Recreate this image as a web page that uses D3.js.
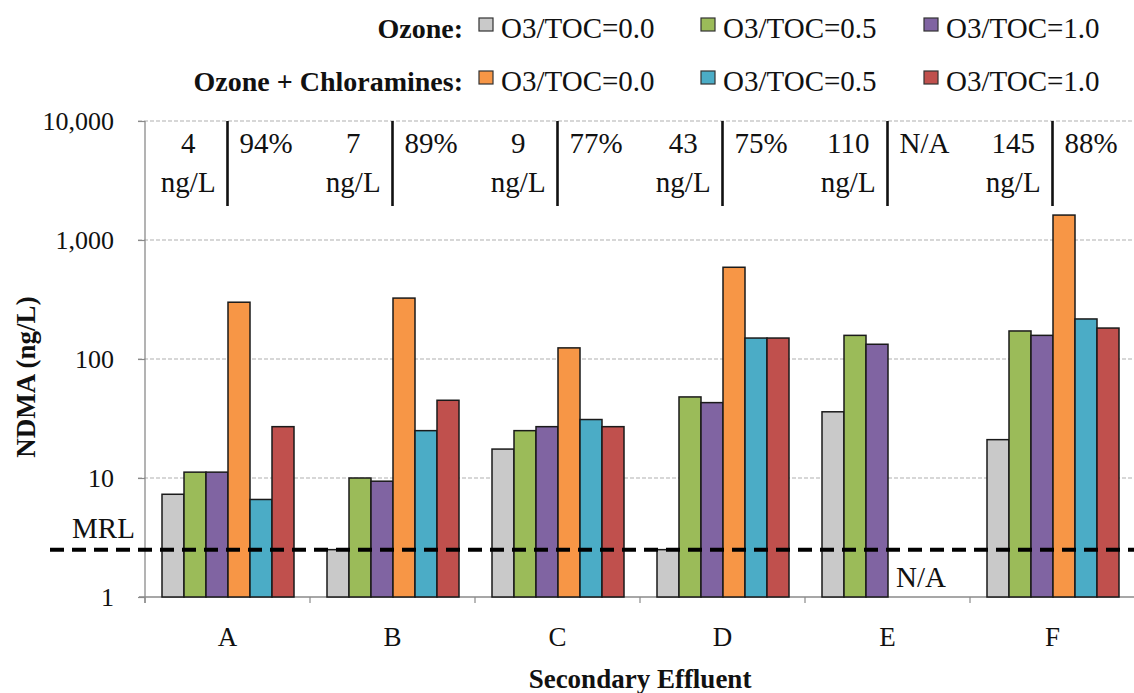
<!DOCTYPE html>
<html>
<head>
<meta charset="utf-8">
<script src="https://cdn.jsdelivr.net/npm/d3@7"></script>
<style>
  html, body { margin: 0; padding: 0; background: #fff; }
  svg { display: block; }
  svg text { font-family: "Liberation Serif", "Tinos", "Times New Roman", Times, "DejaVu Serif", serif; }
</style>
</head>
<body>
<svg id="chart" width="1134" height="693"></svg>
<script>
// Secondary effluent samples
const categories = ["A", "B", "C", "D", "E", "F"];

// NDMA (ng/L) per sample; null = not analysed
const ozone00 = [7.3, 2.5, 17.5, 2.5, 36, 21];
const ozone05 = [11.2, 10, 25, 48, 158, 172];
const ozone10 = [11.2, 9.4, 27, 43, 133, 158];
const chlor00 = [300, 325, 124, 590, null, 1620];
const chlor05 = [6.6, 25, 31, 150, null, 217];
const chlor10 = [27, 45, 27, 150, null, 182];

// Header row: initial concentration and removal per sample
const initialConc = ["4", "7", "9", "43", "110", "145"];
const removalPct = ["94%", "89%", "77%", "75%", "N/A", "88%"];

const mrl = 2.5;
const yTicks = [1, 10, 100, 1000, 10000];

const seriesNames = ["oz00", "oz05", "oz10", "cl00", "cl05", "cl10"];
const seriesValues = [ozone00, ozone05, ozone10, chlor00, chlor05, chlor10];
const seriesColors = ["#c9c9c9", "#9bbb59", "#8064a2", "#f79646", "#4bacc6", "#c0504d"];
const legendRows = [
  { label: "Ozone:", items: [0, 1, 2] },
  { label: "Ozone + Chloramines:", items: [3, 4, 5] }
];
const legendText = ["O3/TOC=0.0", "O3/TOC=0.5", "O3/TOC=1.0", "O3/TOC=0.0", "O3/TOC=0.5", "O3/TOC=1.0"];

const serif = '"Liberation Serif", "Tinos", "Times New Roman", Times, "DejaVu Serif", serif';

const svg = d3.select("#chart");
const plot = { left: 145, right: 1135, top: 121, bottom: 597 };

const x = d3.scaleBand().domain(categories).range([plot.left, plot.right]).padding(0);
const xs = d3.scaleBand().domain(seriesNames).range([17, x.bandwidth() - 16]).padding(0);
const y = d3.scaleLog().domain([1, 10000]).range([plot.bottom, plot.top]);

// Gridlines
svg.append("g")
  .selectAll("line")
  .data(yTicks.slice(1))
  .join("line")
  .attr("x1", plot.left - 7)
  .attr("x2", plot.right)
  .attr("y1", d => y(d))
  .attr("y2", d => y(d))
  .attr("stroke", "#b0b0b0")
  .attr("stroke-width", 1.2)
  .attr("stroke-dasharray", "4,2");

// Y axis
const yAxis = svg.append("g")
  .attr("transform", `translate(${plot.left},0)`)
  .call(d3.axisLeft(y).tickValues(yTicks).tickFormat(d3.format(",")).tickSize(7).tickPadding(24));
yAxis.attr("font-family", serif);
yAxis.select(".domain").attr("stroke", "#8a8a8a").attr("stroke-width", 1.3)
  .attr("d", `M0,${plot.top}V${plot.bottom + 6}`);
yAxis.selectAll(".tick line").attr("stroke", "#8a8a8a").attr("stroke-width", 1.2);
yAxis.selectAll(".tick text")
  .attr("font-size", 26)
  .attr("fill", "#111")
  .attr("dy", "0.34em");

// X axis
const xAxis = svg.append("g")
  .attr("transform", `translate(0,${plot.bottom})`)
  .call(d3.axisBottom(x).tickSize(0).tickPadding(30));
xAxis.attr("font-family", serif);
xAxis.select(".domain").remove();
svg.append("line")
  .attr("x1", plot.left - 6).attr("x2", plot.right)
  .attr("y1", plot.bottom).attr("y2", plot.bottom)
  .attr("stroke", "#8a8a8a").attr("stroke-width", 1.3);
svg.append("g")
  .selectAll("line")
  .data(categories)
  .join("line")
  .attr("x1", d => x(d)).attr("x2", d => x(d))
  .attr("y1", plot.bottom).attr("y2", plot.bottom + 6)
  .attr("stroke", "#8a8a8a").attr("stroke-width", 1.2);
xAxis.selectAll(".tick text")
  .attr("font-size", 27)
  .attr("fill", "#111")
  .attr("dy", "0.71em");

// Bars
const groups = svg.append("g")
  .selectAll("g")
  .data(categories)
  .join("g")
  .attr("transform", d => `translate(${x(d)},0)`);

groups.selectAll("rect")
  .data((c, ci) => seriesNames.map((s, si) => ({ s, v: seriesValues[si][ci], color: seriesColors[si] }))
    .filter(d => d.v != null))
  .join("rect")
  .attr("x", d => xs(d.s))
  .attr("width", xs.bandwidth())
  .attr("y", d => y(d.v))
  .attr("height", d => y(1) - y(d.v))
  .attr("fill", d => d.color)
  .attr("stroke", "#1a1a1a")
  .attr("stroke-width", 1.5);

// Header row: dividers and annotations
const header = svg.append("g");
header.selectAll("line")
  .data(categories)
  .join("line")
  .attr("x1", d => x(d) + x.bandwidth() / 2)
  .attr("x2", d => x(d) + x.bandwidth() / 2)
  .attr("y1", plot.top)
  .attr("y2", 206)
  .attr("stroke", "#111")
  .attr("stroke-width", 2.6);

header.selectAll("text.conc")
  .data(categories)
  .join("text")
  .attr("class", "conc")
  .attr("x", d => x(d) + x.bandwidth() / 4 + 2)
  .attr("y", 153)
  .attr("text-anchor", "middle")
  .attr("font-size", 29)
  .attr("fill", "#111")
  .text((d, i) => initialConc[i]);

header.selectAll("text.unit")
  .data(categories)
  .join("text")
  .attr("class", "unit")
  .attr("x", d => x(d) + x.bandwidth() / 4 + 2)
  .attr("y", 192)
  .attr("text-anchor", "middle")
  .attr("font-size", 29)
  .attr("fill", "#111")
  .text("ng/L");

header.selectAll("text.pct")
  .data(categories)
  .join("text")
  .attr("class", "pct")
  .attr("x", d => x(d) + x.bandwidth() / 2 + 12)
  .attr("y", 153)
  .attr("font-size", 29)
  .attr("fill", "#111")
  .text((d, i) => removalPct[i]);

// MRL reference line
svg.append("line")
  .attr("x1", 50).attr("x2", plot.right)
  .attr("y1", y(mrl)).attr("y2", y(mrl))
  .attr("stroke", "#000")
  .attr("stroke-width", 4)
  .attr("stroke-dasharray", "14,8");
svg.append("text")
  .attr("x", 72).attr("y", 538)
  .attr("font-size", 29)
  .attr("fill", "#111")
  .text("MRL");

// Missing chloramine results for sample E
svg.append("text")
  .attr("x", x("E") + xs("cl05") + xs.bandwidth() / 2)
  .attr("y", 587)
  .attr("text-anchor", "middle")
  .attr("font-size", 29)
  .attr("fill", "#111")
  .text("N/A");

// Axis titles
svg.append("text")
  .attr("transform", "translate(35,377) rotate(-90)")
  .attr("text-anchor", "middle")
  .attr("font-size", 27)
  .attr("font-weight", "bold")
  .attr("fill", "#111")
  .text("NDMA (ng/L)");
svg.append("text")
  .attr("x", (plot.left + plot.right) / 2)
  .attr("y", 688)
  .attr("text-anchor", "middle")
  .attr("font-size", 27)
  .attr("font-weight", "bold")
  .attr("fill", "#111")
  .text("Secondary Effluent");

// Legend
const legendSwatchX = [479, 701, 924];
const legendRowY = [38, 91];
legendRows.forEach((row, ri) => {
  const g = svg.append("g");
  g.append("text")
    .attr("x", 463).attr("y", legendRowY[ri])
    .attr("text-anchor", "end")
    .attr("font-size", 28)
    .attr("font-weight", "bold")
    .attr("fill", "#111")
    .text(row.label);
  row.items.forEach((si, k) => {
    g.append("rect")
      .attr("x", legendSwatchX[k]).attr("y", legendRowY[ri] - 20)
      .attr("width", 14).attr("height", 13)
      .attr("fill", seriesColors[si])
      .attr("stroke", "#333")
      .attr("stroke-width", 1.2);
    g.append("text")
      .attr("x", legendSwatchX[k] + 22).attr("y", legendRowY[ri])
      .attr("font-size", 29)
      .attr("fill", "#111")
      .text(legendText[si]);
  });
});
</script>
</body>
</html>
